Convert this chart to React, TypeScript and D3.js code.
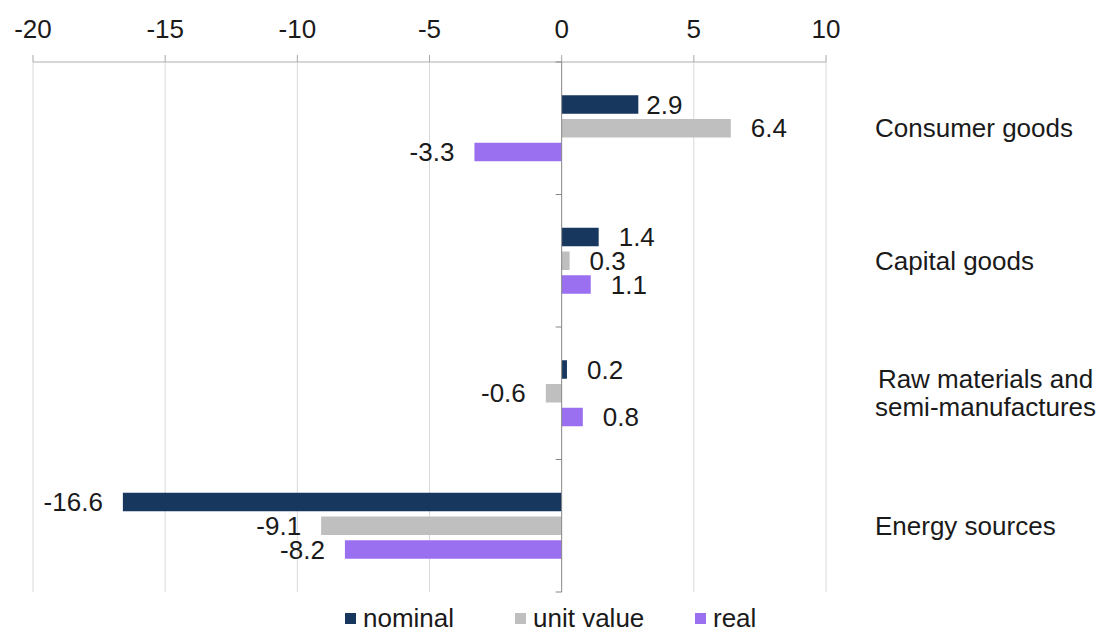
import React from "react";
import * as d3 from "d3";

const categories = ["Consumer goods", "Capital goods", "Raw materials and\nsemi-manufactures", "Energy sources"];
const seriesNames = ["nominal", "unit value", "real"];
const nominal = [2.9, 1.4, 0.2, -16.6];
const unitValue = [6.4, 0.3, -0.6, -9.1];
const real = [-3.3, 1.1, 0.8, -8.2];
const xTicks = [-20, -15, -10, -5, 0, 5, 10];

const colors = ["#17375E", "#BFBFBF", "#9B70F0"];
const FONT = "'Liberation Sans', Arial, sans-serif";
const FS = 26;

const W = 1106;
const H = 633;
const plotLeft = 33;
const plotRight = 826;
const plotTop = 62;
const plotBottom = 592;
const labelLeft = 875;
const legendX = [345, 515, 695];

function measure(text: string): number {
  try {
    const c = document.createElement("canvas").getContext("2d");
    if (c) {
      c.font = `${FS}px ${FONT}`;
      return c.measureText(text).width;
    }
  } catch (e) {}
  return text.length * FS * 0.5;
}

export default function App() {
  const x = d3.scaleLinear().domain([-20, 10]).range([plotLeft, plotRight]);
  const y = d3.scaleBand<string>().domain(categories).range([plotTop, plotBottom]).padding(0);
  const groupH = 66;
  const ySub = d3.scaleBand<string>().domain(seriesNames).range([0, groupH]).paddingInner(0.221).paddingOuter(0);
  const values = [nominal, unitValue, real];
  const bw = y.bandwidth();

  const bars: any[] = [];
  const labels: any[] = [];
  categories.forEach((cat, ci) => {
    const gTop = (y(cat) as number) + bw / 2 - groupH / 2;
    seriesNames.forEach((s, si) => {
      const v = values[si][ci];
      const y0 = gTop + (ySub(s) as number);
      const x0 = Math.min(x(0), x(v));
      const x1 = Math.max(x(0), x(v));
      bars.push(
        <rect key={`b${ci}-${si}`} x={x0} y={y0} width={x1 - x0} height={ySub.bandwidth()} fill={colors[si]} />
      );
      const gap = ci === 0 && si === 0 ? 8 : 20;
      const lx = v >= 0 ? x1 + gap : x0 - gap;
      labels.push(
        <text
          key={`l${ci}-${si}`}
          x={lx}
          y={y0 + ySub.bandwidth() / 2}
          dy="0.35em"
          textAnchor={v >= 0 ? "start" : "end"}
        >
          {v.toFixed(1)}
        </text>
      );
    });
  });

  return (
    <svg
      width={W}
      height={H}
      style={{ position: "absolute", left: 0, top: 0, background: "#fff" }}
      fontFamily={FONT}
      fontSize={FS}
      fill="#1a1a1a"
    >
      <rect x={0} y={0} width={W} height={H} fill="#fff" />
      {/* gridlines */}
      {xTicks.filter((t) => t !== 0).map((t) => (
        <line key={`g${t}`} x1={x(t)} x2={x(t)} y1={plotTop} y2={plotBottom} stroke="#D9D9D9" strokeWidth={1} />
      ))}
      {/* top axis */}
      <line x1={x(-20)} x2={x(10)} y1={plotTop} y2={plotTop} stroke="#C8C8C8" strokeWidth={1.5} />
      {xTicks.map((t) => (
        <g key={`t${t}`}>
          <line x1={x(t)} x2={x(t)} y1={plotTop - 7} y2={plotTop} stroke="#A6A6A6" strokeWidth={1} />
          <text x={x(t)} y={38} textAnchor="middle">
            {t}
          </text>
        </g>
      ))}
      {bars}
      {/* zero axis */}
      <line x1={x(0)} x2={x(0)} y1={plotTop} y2={plotBottom} stroke="#868686" strokeWidth={1} />
      {[...categories.map((c) => y(c) as number), plotBottom].map((yy, i) => (
        <line key={`zt${i}`} x1={x(0) - 6} x2={x(0)} y1={yy} y2={yy} stroke="#868686" strokeWidth={1} />
      ))}
      {labels}
      {/* category labels */}
      {categories.map((cat) => {
        const lines = cat.split("\n");
        const maxW = Math.max(...lines.map(measure));
        const cy = (y(cat) as number) + bw / 2;
        const lh = 28;
        return (
          <text key={`c${cat}`} textAnchor="middle">
            {lines.map((ln, i) => (
              <tspan key={i} x={labelLeft + maxW / 2} y={cy + (i - (lines.length - 1) / 2) * lh} dy="0.35em">
                {ln}
              </tspan>
            ))}
          </text>
        );
      })}
      {/* legend */}
      {seriesNames.map((s, i) => (
        <g key={`lg${s}`}>
          <rect x={legendX[i]} y={613} width={11} height={11} fill={colors[i]} />
          <text x={legendX[i] + 18} y={627}>
            {s}
          </text>
        </g>
      ))}
    </svg>
  );
}
